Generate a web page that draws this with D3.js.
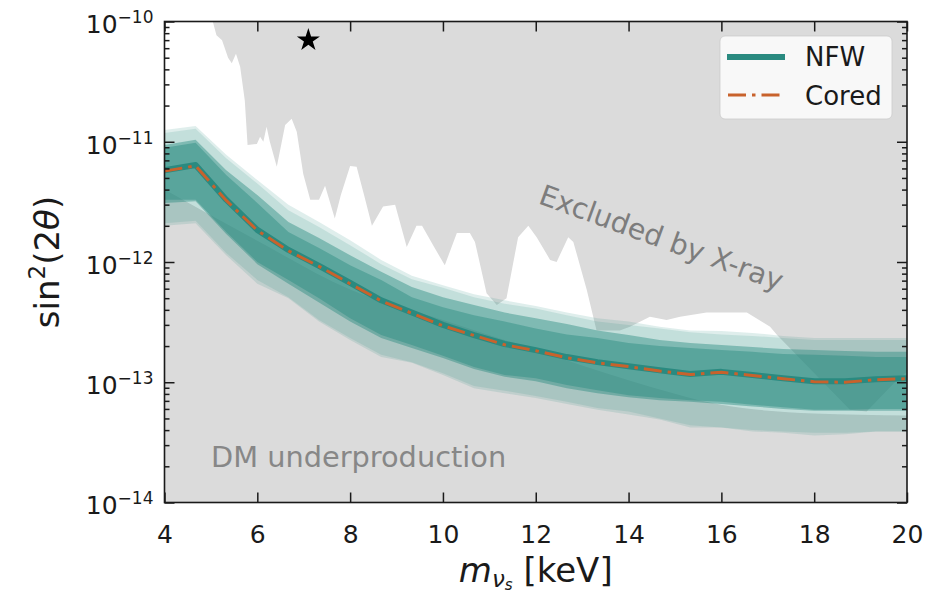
<!DOCTYPE html>
<html><head><meta charset="utf-8">
<script src="https://cdn.jsdelivr.net/npm/d3@7"></script>
<style>
body{margin:0;background:#fff}
svg{display:block;font-family:"DejaVu Sans",sans-serif}
</style>
</head><body>
<svg id="c" width="935" height="597"></svg>
<script>
// ---------- data ----------
const mass = [4, 4.67, 5.33, 6, 6.67, 7.33, 8, 8.67, 9.33, 10, 10.67, 11.33, 12, 12.67, 13.33, 14, 14.67, 15.33, 16, 16.67, 17.33, 18, 18.67, 19.33, 20];

const nfwMedian = [5.8e-12,6.4e-12,3.3e-12,1.85e-12,1.26e-12,9.3e-13,6.7e-13,4.8e-13,3.8e-13,3.0e-13,2.47e-13,2.08e-13,1.85e-13,1.62e-13,1.47e-13,1.36e-13,1.26e-13,1.17e-13,1.22e-13,1.15e-13,1.08e-13,1.02e-13,1.02e-13,1.06e-13,1.08e-13];
const nfwHi1 = [9.4e-12,1.04e-11,5.8e-12,3.6e-12,2.15e-12,1.58e-12,1.14e-12,8.3e-13,6.2e-13,5.1e-13,4.4e-13,3.8e-13,3.4e-13,3.05e-13,2.7e-13,2.47e-13,2.25e-13,2.12e-13,2.04e-13,1.96e-13,1.89e-13,1.85e-13,1.82e-13,1.79e-13,1.79e-13];
const nfwLo1 = [3.3e-12,3.3e-12,1.78e-12,1.0e-12,7.1e-13,5.0e-13,3.4e-13,2.47e-13,2.04e-13,1.66e-13,1.34e-13,1.15e-13,1.08e-13,9.5e-14,8.6e-14,7.8e-14,7.4e-14,7.1e-14,6.9e-14,6.5e-14,6.2e-14,5.9e-14,5.9e-14,6.0e-14,6.0e-14];
const nfwHi2 = [1.25e-11,1.35e-11,7.8e-12,4.8e-12,3.0e-12,2.15e-12,1.52e-12,1.04e-12,7.7e-13,6.4e-13,5.4e-13,4.8e-13,4.3e-13,3.8e-13,3.4e-13,3.2e-13,2.9e-13,2.7e-13,2.67e-13,2.57e-13,2.43e-13,2.33e-13,2.33e-13,2.33e-13,2.33e-13];
const nfwLo2 = [2.0e-12,2.1e-12,1.14e-12,6.6e-13,5.0e-13,3.2e-13,2.25e-13,1.62e-13,1.45e-13,1.15e-13,8.9e-14,8.1e-14,7.4e-14,6.6e-14,5.9e-14,5.4e-14,4.9e-14,4.2e-14,4.2e-14,3.9e-14,3.8e-14,3.6e-14,3.7e-14,3.9e-14,3.9e-14];

const coredMedian = [5.7e-12,6.3e-12,3.25e-12,1.83e-12,1.24e-12,9.2e-13,6.6e-13,4.75e-13,3.75e-13,2.95e-13,2.45e-13,2.05e-13,1.83e-13,1.60e-13,1.45e-13,1.35e-13,1.24e-13,1.16e-13,1.21e-13,1.14e-13,1.07e-13,1.01e-13,1.0e-13,1.05e-13,1.07e-13];
const coredHi1 = [8.9e-12,9.8e-12,5.3e-12,3.1e-12,1.78e-12,1.31e-12,9.4e-13,7.1e-13,5.1e-13,4.2e-13,3.6e-13,3.2e-13,2.8e-13,2.5e-13,2.33e-13,2.12e-13,2.0e-13,1.93e-13,1.85e-13,1.79e-13,1.72e-13,1.69e-13,1.66e-13,1.62e-13,1.62e-13];
const coredLo1 = [3.1e-12,3.2e-12,1.71e-12,9.6e-13,6.6e-13,4.6e-13,3.2e-13,2.33e-13,1.93e-13,1.59e-13,1.29e-13,1.11e-13,1.02e-13,8.9e-14,8.1e-14,7.5e-14,7.1e-14,6.9e-14,6.6e-14,6.3e-14,6.0e-14,5.8e-14,5.8e-14,5.8e-14,5.8e-14];
const coredHi2 = [1.18e-11,1.28e-11,7.3e-12,4.5e-12,2.7e-12,1.95e-12,1.38e-12,9.6e-13,7.2e-13,6.1e-13,5.1e-13,4.5e-13,4.1e-13,3.6e-13,3.2e-13,3.0e-13,2.8e-13,2.6e-13,2.5e-13,2.43e-13,2.33e-13,2.25e-13,2.25e-13,2.25e-13,2.25e-13];
const coredLo2 = [2.1e-12,2.2e-12,1.19e-12,7.1e-13,5.1e-13,3.3e-13,2.33e-13,1.69e-13,1.47e-13,1.19e-13,9.3e-14,8.5e-14,7.7e-14,6.9e-14,6.1e-14,5.7e-14,5.0e-14,4.4e-14,4.2e-14,4.0e-14,3.9e-14,3.8e-14,3.8e-14,3.9e-14,3.9e-14];

const xrayMass = [5.04,5.12,5.24,5.37,5.45,5.54,5.63,5.73,5.79,5.99,6.06,6.13,6.20,6.27,6.42,6.60,6.74,6.85,6.99,7.14,7.33,7.46,7.67,7.80,8.00,8.14,8.30,8.47,8.71,8.97,9.22,9.43,9.55,9.81,10.04,10.30,10.58,10.69,10.94,11.16,11.37,11.62,11.84,12.02,12.31,12.45,12.70,12.81,13.10,13.31,13.81,14.03,14.46,14.82,15.11,15.68,16.55,17.05,17.20,18.77,19.13,19.78,20.0];
const xrayVal = [1e-10,7.7e-11,7.0e-11,5.0e-11,4.5e-11,5.4e-11,4.2e-11,2.2e-11,9.4e-12,9.6e-12,1.1e-11,1.0e-11,1.33e-11,1.0e-11,6.2e-12,1.38e-11,1.55e-11,1.21e-11,5.4e-12,3.3e-12,3.3e-12,4.3e-12,2.3e-12,3.6e-12,6.3e-12,6.2e-12,3.6e-12,2.0e-12,2.9e-12,3.0e-12,1.33e-12,2.0e-12,2.0e-12,1.33e-12,9.4e-13,1.74e-12,1.74e-12,1.47e-12,5.5e-13,4.4e-13,5.0e-13,1.61e-12,2.0e-12,1.61e-12,1.04e-12,1.0e-12,1.61e-12,1.47e-12,5.85e-13,2.7e-13,2.7e-13,2.9e-13,3.5e-13,3.3e-13,3.5e-13,3.8e-13,3.8e-13,2.9e-13,2.47e-13,5.9e-14,5.7e-14,1.04e-13,1.22e-13];

const underMass = [4, 6, 8, 10, 12, 14, 16, 18, 20];
const underVal = [4.0e-12, 1.5e-12, 5.9e-13, 3.3e-13, 1.85e-13, 1.04e-13, 6.5e-14, 5.5e-14, 5.3e-14];

const starPoint = [7.1, 7.0e-11];
const xTicks = [4, 6, 8, 10, 12, 14, 16, 18, 20];
const yMajor = [1e-14, 1e-13, 1e-12, 1e-11, 1e-10];
const legendLabels = ["NFW", "Cored"];
const regionLabels = ["Excluded by X-ray", "DM underproduction"];

// ---------- layout ----------
const L = 164.5, R = 907, T = 21.5, B = 502.5;
const svg = d3.select("#c");
const x = d3.scaleLinear().domain([4, 20]).range([L, R]);
const y = d3.scaleLog().domain([1e-14, 1e-10]).range([B, T]);

const TEAL = "#2a8a80", ORANGE = "#c8622c", GREY = "#dbdbdb", INK = "#1a1a1a";

svg.append("defs").append("clipPath").attr("id", "clip")
  .append("rect").attr("x", L).attr("y", T).attr("width", R - L).attr("height", B - T);

const g = svg.append("g").attr("clip-path", "url(#clip)");
g.append("rect").attr("x", L).attr("y", T).attr("width", R - L).attr("height", B - T).attr("fill", "#fff");

// X-ray exclusion
const xrayData = xrayMass.map((m, i) => [m, xrayVal[i]]).concat([[20, 1e-10]]);
g.append("path")
  .attr("d", d3.line().x(d => x(d[0])).y(d => y(d[1]))(xrayData) + "Z")
  .attr("fill", GREY);

// DM underproduction
const underData = underMass.map((m, i) => [m, underVal[i]]);
g.append("path")
  .attr("d", d3.area().x(d => x(d[0])).y0(B).y1(d => y(d[1])).curve(d3.curveMonotoneX)(underData))
  .attr("fill", GREY);

// bands
function band(lo, hi, op) {
  const data = mass.map((m, i) => ({m, lo: lo[i], hi: hi[i]}));
  g.append("path")
    .attr("d", d3.area().x(d => x(d.m)).y0(d => y(d.lo)).y1(d => y(d.hi))(data))
    .attr("fill", TEAL).attr("fill-opacity", op);
}
band(nfwLo2, nfwHi2, 0.15);
band(coredLo2, coredHi2, 0.15);
band(nfwLo1, nfwHi1, 0.44);
band(coredLo1, coredHi1, 0.44);

const line = d3.line().x((d, i) => x(mass[i])).y(d => y(d));
g.append("path").attr("d", line(nfwMedian)).attr("fill", "none")
  .attr("stroke", TEAL).attr("stroke-width", 6).attr("stroke-linejoin", "round");
g.append("path").attr("d", line(coredMedian)).attr("fill", "none")
  .attr("stroke", ORANGE).attr("stroke-width", 3).attr("stroke-dasharray", "18,6,3.5,6");

// star
g.append("path")
  .attr("d", d3.symbol(d3.symbolStar, 165)())
  .attr("transform", `translate(${x(starPoint[0])},${y(starPoint[1])})`)
  .attr("fill", "#000");

// region labels
g.append("text").text(regionLabels[0])
  .attr("transform", `translate(658,247) rotate(20)`)
  .attr("text-anchor", "middle").attr("font-size", 28.5).attr("fill", "#7d7d7d");
g.append("text").text(regionLabels[1])
  .attr("x", 211).attr("y", 467).attr("font-size", 28.8).attr("fill", "#878787");

// ---------- axes ----------
const yMinor = [];
for (let e = -14; e < -10; e++) for (let k = 2; k <= 9; k++) yMinor.push(k * Math.pow(10, e));

function styleAxis(sel) {
  sel.select(".domain").remove();
  sel.selectAll(".tick line").attr("stroke", INK).attr("stroke-width", 1.5);
  sel.selectAll("text").attr("fill", INK).attr("font-family", "DejaVu Sans");
}

svg.append("g").attr("transform", `translate(0,${B})`)
  .call(d3.axisBottom(x).tickValues(xTicks).tickSizeInner(-10).tickSizeOuter(0).tickPadding(22.5).tickFormat(d3.format("d")))
  .call(styleAxis).selectAll("text").attr("font-size", 25);

svg.append("g").attr("transform", `translate(0,${T})`)
  .call(d3.axisTop(x).tickValues(xTicks).tickSizeInner(-10).tickSizeOuter(0).tickFormat(() => ""))
  .call(styleAxis);

const yl = svg.append("g").attr("transform", `translate(${L},0)`)
  .call(d3.axisLeft(y).tickValues(yMajor).tickSizeInner(-10).tickSizeOuter(0).tickPadding(11))
  .call(styleAxis);
yl.selectAll("text").attr("font-size", 25).attr("dy", "0.45em").each(function(d) {
  const t = d3.select(this);
  t.text(null);
  t.append("tspan").text("10");
  t.append("tspan").attr("dy", -10).attr("font-size", 17).text("\u2212" + Math.abs(Math.round(Math.log10(d))));
});
svg.append("g").attr("transform", `translate(${L},0)`)
  .call(d3.axisLeft(y).tickValues(yMinor).tickSizeInner(-5).tickSizeOuter(0).tickFormat(() => ""))
  .call(styleAxis);
svg.append("g").attr("transform", `translate(${R},0)`)
  .call(d3.axisRight(y).tickValues(yMajor).tickSizeInner(-10).tickSizeOuter(0).tickFormat(() => ""))
  .call(styleAxis);
svg.append("g").attr("transform", `translate(${R},0)`)
  .call(d3.axisRight(y).tickValues(yMinor).tickSizeInner(-5).tickSizeOuter(0).tickFormat(() => ""))
  .call(styleAxis);

svg.append("rect").attr("x", L).attr("y", T).attr("width", R - L).attr("height", B - T)
  .attr("fill", "none").attr("stroke", INK).attr("stroke-width", 1.6);

// axis labels
const xl = svg.append("text").attr("x", (L + R) / 2).attr("y", 582)
  .attr("text-anchor", "middle").attr("font-size", 34).attr("fill", INK);
xl.append("tspan").attr("font-style", "italic").text("m");
xl.append("tspan").attr("font-style", "italic").attr("font-size", 23).attr("dy", 5).text("\u03BD");
xl.append("tspan").attr("font-style", "italic").attr("font-size", 15).attr("dy", 3).text("s");
xl.append("tspan").attr("dy", -8).text(" [keV]");

const ylab = svg.append("text").attr("transform", `translate(59,${(T + B) / 2}) rotate(-90)`)
  .attr("text-anchor", "middle").attr("font-size", 34).attr("fill", INK);
ylab.append("tspan").text("sin");
ylab.append("tspan").attr("font-size", 23).attr("dy", -14).text("2");
ylab.append("tspan").attr("dy", 14).text("(2");
ylab.append("tspan").attr("font-style", "italic").text("\u03B8");
ylab.append("tspan").text(")");

// ---------- legend ----------
const lg = svg.append("g");
lg.append("rect").attr("x", 720).attr("y", 36).attr("width", 172).attr("height", 83).attr("rx", 5)
  .attr("fill", "#fff").attr("fill-opacity", 0.8).attr("stroke", "#cccccc").attr("stroke-opacity", 0.8);
lg.append("line").attr("x1", 727).attr("x2", 785).attr("y1", 57).attr("y2", 57)
  .attr("stroke", TEAL).attr("stroke-width", 6);
lg.append("line").attr("x1", 728).attr("x2", 783).attr("y1", 95).attr("y2", 95)
  .attr("stroke", ORANGE).attr("stroke-width", 3).attr("stroke-dasharray", "18,6,3.5,6");
lg.selectAll("text.lab").data(legendLabels).join("text").attr("class", "lab")
  .attr("x", 805).attr("y", (d, i) => 66 + i * 39).attr("font-size", 26).attr("fill", INK).text(d => d);
</script>
</body></html>
